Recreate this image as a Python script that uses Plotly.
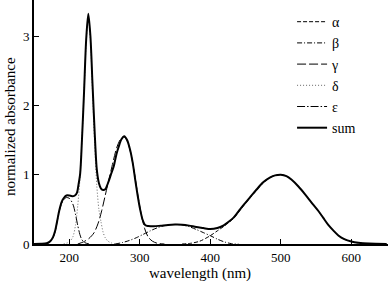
import plotly.graph_objects as go

# ---- data ----
alpha_wl = [360, 372, 385, 400, 410, 420, 433, 447, 456, 466, 475, 485, 492, 500, 508, 515, 525, 535, 545, 553, 560, 567, 575, 582, 590, 600, 610, 625, 650]
alpha_ab = [0.0, 0.01, 0.04, 0.12, 0.19, 0.26, 0.37, 0.55, 0.66, 0.78, 0.88, 0.96, 0.99, 1.0, 0.98, 0.93, 0.83, 0.71, 0.58, 0.48, 0.38, 0.28, 0.19, 0.12, 0.07, 0.033, 0.015, 0.005, 0.0]

beta_wl = [265, 275, 285, 295, 305, 315, 325, 335, 345, 352, 360, 370, 380, 390, 400, 410, 420, 430, 440]
beta_ab = [0.0, 0.02, 0.05, 0.09, 0.14, 0.19, 0.235, 0.265, 0.28, 0.282, 0.275, 0.25, 0.21, 0.165, 0.12, 0.07, 0.03, 0.005, 0.0]

gamma_wl = [212, 220, 228, 235, 241, 246, 251, 256, 262, 267, 272, 277, 282, 287, 292, 297, 302, 307, 312, 318, 325, 335]
gamma_ab = [0.0, 0.03, 0.08, 0.16, 0.3, 0.48, 0.7, 0.92, 1.18, 1.38, 1.5, 1.55, 1.49, 1.32, 1.05, 0.72, 0.43, 0.22, 0.1, 0.04, 0.01, 0.0]

delta_wl = [192, 200, 205, 209, 212, 215, 218, 221, 224, 227, 230, 233, 236, 239, 242, 245, 248, 251, 255, 260, 268]
delta_ab = [0.0, 0.03, 0.1, 0.28, 0.55, 0.92, 1.5, 2.2, 2.9, 3.29, 2.95, 2.2, 1.45, 0.85, 0.5, 0.32, 0.17, 0.09, 0.04, 0.015, 0.0]

eps_wl = [160, 168, 173, 177, 180, 183, 186, 189, 192, 196, 200, 203, 206, 209, 212, 215, 218, 222, 228]
eps_ab = [0.0, 0.005, 0.03, 0.09, 0.18, 0.33, 0.48, 0.58, 0.64, 0.67, 0.66, 0.62, 0.55, 0.42, 0.27, 0.14, 0.06, 0.02, 0.0]

sum_wl = [150, 160, 168, 173, 177, 180, 183, 186, 189, 192, 196, 200, 204, 208, 211, 213, 215.5, 218, 221, 224, 227, 230, 233, 236, 239, 242, 245, 248, 251, 255, 259, 263, 267, 270, 274, 278, 282, 286.5, 290, 293.5, 297, 300.5, 304, 308, 312, 320, 330, 340, 350, 360, 370, 380, 390, 400, 410, 419, 426, 433, 440, 447, 456, 466, 475, 485, 492, 500, 508, 515, 525, 535, 545, 553, 560, 567, 575, 582, 590, 600, 610, 625, 650]
sum_ab = [0.0, 0.002, 0.01, 0.04, 0.1, 0.19, 0.34, 0.49, 0.6, 0.66, 0.7, 0.7, 0.69, 0.7, 0.74, 0.85, 1.02, 1.5, 2.2, 2.95, 3.32, 3.0, 2.3, 1.62, 1.08, 0.88, 0.8, 0.78, 0.79, 0.88, 1.0, 1.12, 1.3, 1.4, 1.51, 1.555, 1.5, 1.35, 1.17, 0.93, 0.7, 0.5, 0.35, 0.27, 0.26, 0.255, 0.265, 0.275, 0.28, 0.278, 0.265, 0.245, 0.23, 0.215, 0.23, 0.27, 0.32, 0.38, 0.47, 0.56, 0.67, 0.79, 0.89, 0.96, 0.99, 1.0, 0.98, 0.93, 0.83, 0.71, 0.58, 0.48, 0.38, 0.28, 0.19, 0.12, 0.07, 0.035, 0.017, 0.006, 0.0]

x_ticks = [200, 300, 400, 500, 600]
y_ticks = [0, 1, 2, 3]

series = [
    ("α", alpha_wl, alpha_ab, "4px,2px", 1, "black"),
    ("β", beta_wl, beta_ab, "5px,2px,1px,2px", 1, "black"),
    ("γ", gamma_wl, gamma_ab, "9px,3px", 1, "black"),
    ("δ", delta_wl, delta_ab, "1px,2px", 1, "#666666"),
    ("ε", eps_wl, eps_ab, "8px,2px,1.5px,2px", 1, "black"),
    ("sum", sum_wl, sum_ab, "solid", 2, "black"),
]

fig = go.Figure()
for name, xs, ys, dash, w, col in series:
    fig.add_trace(go.Scatter(
        x=xs, y=ys, mode="lines", name=name,
        line=dict(color=col, width=w, dash=dash, shape="spline", smoothing=0.8),
    ))

font_family = "Liberation Serif"
fig.update_layout(
    width=388, height=283,
    margin=dict(l=34, r=0, t=0, b=39),
    paper_bgcolor="white", plot_bgcolor="white",
    font=dict(family=font_family, size=12, color="black"),
    showlegend=True,
    legend=dict(
        x=0.729, y=0.975, xanchor="left", yanchor="top",
        bgcolor="rgba(0,0,0,0)", borderwidth=0,
        font=dict(family=font_family, size=14, color="black"),
        itemwidth=30,
    ),
    xaxis=dict(
        range=[150, 652], tickvals=x_ticks, ticktext=[str(v) for v in x_ticks],
        ticks="inside", ticklen=5, tickwidth=1, tickcolor="black",
        showline=True, linecolor="black", linewidth=2,
        showgrid=False, zeroline=False,
        tickfont=dict(family=font_family, size=13),
    ),
    yaxis=dict(
        range=[0, 3.52], tickvals=y_ticks, ticktext=[str(v) for v in y_ticks],
        ticks="inside", ticklen=5, tickwidth=1, tickcolor="black",
        showline=True, linecolor="black", linewidth=2,
        showgrid=False, zeroline=False,
        tickfont=dict(family=font_family, size=13),
    ),
    annotations=[
        dict(text="wavelength (nm)", xref="paper", yref="paper",
             x=(200 - 34) / 354, y=-29 / 244, xanchor="center", yanchor="middle",
             showarrow=False, font=dict(family=font_family, size=15)),
        dict(text="normalized absorbance", xref="paper", yref="paper",
             x=-24 / 354, y=(244 - 127) / 244, xanchor="center", yanchor="middle",
             textangle=-90, showarrow=False, font=dict(family=font_family, size=15)),
    ],
)

fig.write_html(
    "out.html",
    config={"displayModeBar": False},
    post_script="document.body.style.margin='0px';document.body.style.overflow='hidden';",
)
